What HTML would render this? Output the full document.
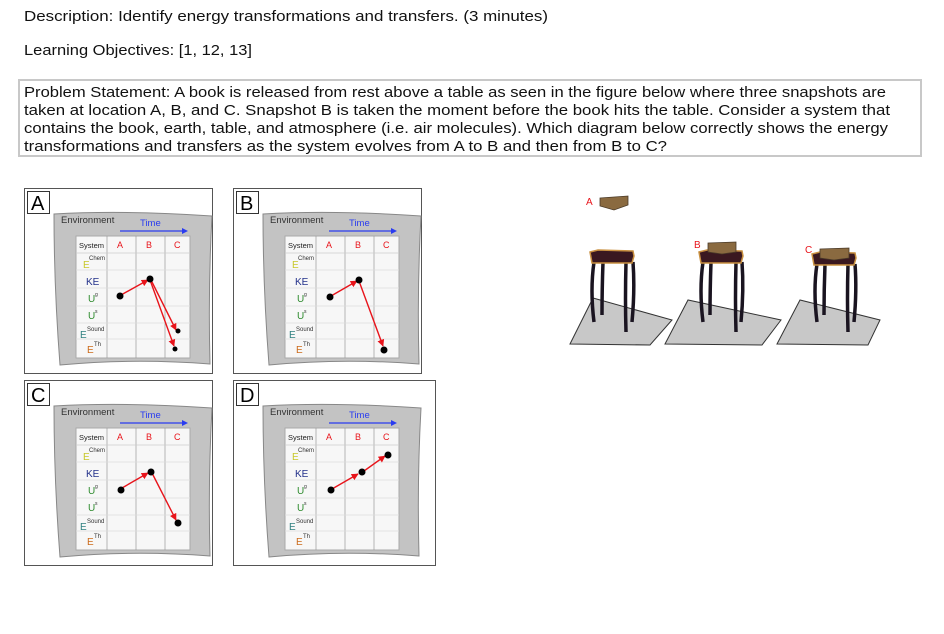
<!DOCTYPE html>
<html><head><meta charset="utf-8"><style>body{margin:0;background:#fff}svg{display:block}</style></head><body>
<svg width="944" height="634" viewBox="0 0 944 634" xmlns="http://www.w3.org/2000/svg" font-family="Liberation Sans, sans-serif">
<defs>
<marker id="ar" viewBox="0 0 10 10" refX="9" refY="5" markerWidth="5" markerHeight="5" orient="auto"><path d="M0,0L10,5L0,10z" fill="#e8141b"/></marker>
<g id="inner">
<rect x="3.5" y="3.5" width="22" height="22" fill="#fff" stroke="#333"/>
<path d="M30,26 Q100,22 188,28 Q184,100 186,176 Q110,170 36,177 Q30,100 30,26z" fill="#c3c3c3" stroke="#888"/>
<text x="37" y="35" font-size="9.5" fill="#333">Environment</text>
<text x="116" y="38" font-size="9.5" fill="#2a3cf0">Time</text>
<line x1="96" y1="43" x2="158" y2="43" stroke="#2a3cf0" stroke-width="1.3"/><path d="M158,40L164,43L158,46z" fill="#2a3cf0"/>
<rect x="52" y="48" width="114" height="122" fill="#f7f7f7" stroke="#aaa"/>
<g stroke="#999" stroke-width="0.7">
<line x1="83" y1="48" x2="83" y2="170"/><line x1="112" y1="48" x2="112" y2="170"/><line x1="141" y1="48" x2="141" y2="170"/>
<line x1="52" y1="65" x2="166" y2="65" stroke="#ccc"/><line x1="52" y1="82" x2="166" y2="82" stroke="#ddd"/><line x1="52" y1="100" x2="166" y2="100" stroke="#ddd"/><line x1="52" y1="118" x2="166" y2="118" stroke="#ddd"/><line x1="52" y1="135" x2="166" y2="135" stroke="#ddd"/><line x1="52" y1="151" x2="166" y2="151" stroke="#ddd"/>
</g>
<text x="55" y="60" font-size="7.5" fill="#222">System</text>
<text x="93" y="60" font-size="9" fill="#e8141b">A</text><text x="122" y="60" font-size="9" fill="#e8141b">B</text><text x="150" y="60" font-size="9" fill="#e8141b">C</text>
<text x="59" y="80" font-size="10" fill="#c8c82a">E</text><text x="65" y="72" font-size="6" fill="#333">Chem</text>
<text x="62" y="97" font-size="10" fill="#22308a">KE</text>
<text x="64" y="114" font-size="10" fill="#2e8b2e">U</text><text x="71" y="108" font-size="5" fill="#333">g</text>
<text x="64" y="131" font-size="10" fill="#2e8b2e">U</text><text x="71" y="125" font-size="5" fill="#333">s</text>
<text x="56" y="150" font-size="10" fill="#2e8080">E</text><text x="63" y="143" font-size="6" fill="#333">Sound</text>
<text x="63" y="165" font-size="10" fill="#cc6a1a">E</text><text x="70" y="158" font-size="6" fill="#333">Th</text>
</g>
<g id="panel"><rect x="0.5" y="0.5" width="188" height="185" fill="#fff" stroke="#555"/><use href="#inner"/></g>
</defs>
<text x="24" y="21" font-size="14.5" fill="#111" textLength="524" lengthAdjust="spacingAndGlyphs">Description:  Identify energy transformations and transfers.  (3 minutes)</text>
<text x="24" y="55" font-size="14.5" fill="#111" textLength="228" lengthAdjust="spacingAndGlyphs">Learning Objectives:  [1, 12, 13]</text>
<rect x="19" y="80" width="902" height="76" fill="#fff" stroke="#c8c8c8" stroke-width="2"/>
<g font-size="14.5" fill="#111">
<text x="24" y="97" textLength="862" lengthAdjust="spacingAndGlyphs">Problem Statement:  A book is released from rest above a table as seen in the figure below where three snapshots are</text>
<text x="24" y="115" textLength="866" lengthAdjust="spacingAndGlyphs">taken at location A, B, and C.  Snapshot B is taken the moment before the book hits the table.  Consider a system that</text>
<text x="24" y="133" textLength="864" lengthAdjust="spacingAndGlyphs">contains the book, earth, table, and atmosphere (i.e. air molecules).  Which diagram below correctly shows the energy</text>
<text x="24" y="151" textLength="643" lengthAdjust="spacingAndGlyphs">transformations and transfers as the system evolves from A to B and then from B to C?</text>
</g>
<g transform="translate(24,188)"><use href="#panel"/><text x="7" y="22" font-size="20">A</text>
<g stroke="#e8141b" stroke-width="1.4" fill="none" marker-end="url(#ar)"><line x1="97" y1="107" x2="124" y2="92"/><line x1="127" y1="92" x2="152" y2="142"/><line x1="126" y1="92" x2="150" y2="158"/></g>
<g fill="#000"><circle cx="96" cy="108" r="3.5"/><circle cx="126" cy="91" r="3.5"/><circle cx="154" cy="143" r="2.5"/><circle cx="151" cy="161" r="2.5"/></g></g>
<g transform="translate(233,188)"><use href="#panel"/><text x="7" y="22" font-size="20">B</text>
<g stroke="#e8141b" stroke-width="1.4" fill="none" marker-end="url(#ar)"><line x1="98" y1="108" x2="124" y2="93"/><line x1="126" y1="93" x2="150" y2="158"/></g>
<g fill="#000"><circle cx="97" cy="109" r="3.5"/><circle cx="126" cy="92" r="3.5"/><circle cx="151" cy="162" r="3.5"/></g></g>
<g transform="translate(24,380)"><use href="#panel"/><text x="7" y="22" font-size="20">C</text>
<g stroke="#e8141b" stroke-width="1.4" fill="none" marker-end="url(#ar)"><line x1="98" y1="108" x2="124" y2="93"/><line x1="128" y1="93" x2="152" y2="140"/></g>
<g fill="#000"><circle cx="97" cy="110" r="3.5"/><circle cx="127" cy="92" r="3.5"/><circle cx="154" cy="143" r="3.5"/></g></g>
<g transform="translate(233,380)"><rect x="0.5" y="0.5" width="202" height="185" fill="#fff" stroke="#555"/><use href="#inner"/><text x="7" y="22" font-size="20">D</text>
<g stroke="#e8141b" stroke-width="1.4" fill="none" marker-end="url(#ar)"><line x1="99" y1="109" x2="125" y2="94"/><line x1="131" y1="91" x2="152" y2="76"/></g>
<g fill="#000"><circle cx="98" cy="110" r="3.5"/><circle cx="129" cy="92" r="3.5"/><circle cx="155" cy="75" r="3.5"/></g></g>
<g fill="#c8c8c8" stroke="#333">
<path d="M570,344L593,298L672,320L650,345z"/>
<path d="M665,344L688,300L781,320L762,345z"/>
<path d="M777,344L800,300L880,320L868,345z"/>
</g>
<g stroke="#1a1420" stroke-width="3.5" fill="none">
<path d="M594,262Q590,290 594,322"/><path d="M603,262Q602,290 602,315"/><path d="M626,262Q625,300 626,332"/><path d="M633,262Q635,290 632,322"/>
<path d="M703,262Q699,290 703,322"/><path d="M711,262Q710,290 710,315"/><path d="M736,262Q735,300 736,332"/><path d="M742,262Q744,290 741,322"/>
<path d="M817,264Q813,290 817,322"/><path d="M825,264Q824,290 824,315"/><path d="M848,264Q847,300 848,332"/><path d="M855,264Q857,290 854,322"/>
</g>
<g fill="#3a1820" stroke="#c99040" stroke-width="1.5">
<path d="M590,252L598,250L633,251L634,256L632,263L592,263z"/>
<path d="M699,252L707,250L742,251L743,256L741,263L701,263z"/>
<path d="M812,254L820,252L855,253L856,258L854,265L814,265z"/>
</g>
<g fill="#8a6a40" stroke="#4a3a28" stroke-width="0.8">
<path d="M600,198L628,196L628,205L614,210L600,206z"/>
<path d="M708,243L736,242L736,252L722,254L708,252z"/>
<path d="M820,249L849,248L849,258L834,260L820,258z"/>
</g>
<g font-size="10" fill="#e8141b"><text x="586" y="205">A</text><text x="694" y="248">B</text><text x="805" y="253">C</text></g>
</svg>
</body></html>
